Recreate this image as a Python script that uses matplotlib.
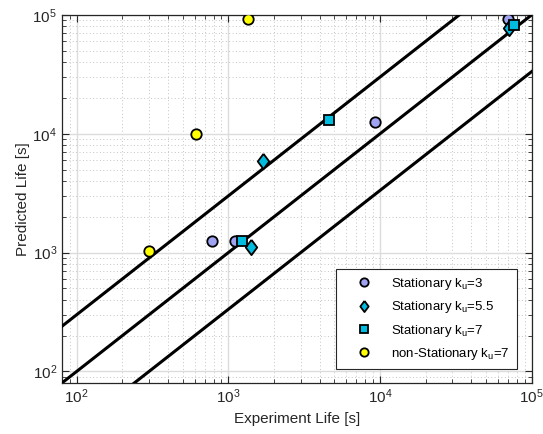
import matplotlib
matplotlib.use("Agg")
import matplotlib.pyplot as plt
import numpy as np

plt.rcParams['font.family'] = ['Liberation Sans', 'DejaVu Sans']
plt.rcParams['mathtext.fontset'] = 'custom'
plt.rcParams['mathtext.rm'] = 'Liberation Sans'
plt.rcParams['mathtext.it'] = 'Liberation Sans'

# Experiment life vs predicted life [s]
stat3_exp = [780, 1100, 9300, 70000]
stat3_pred = [1250, 1250, 12500, 92000]

stat55_exp = [1420, 1700, 71000]
stat55_pred = [1110, 5900, 77000]

stat7_exp = [1230, 4650, 77000]
stat7_pred = [1250, 13100, 82000]

nonstat7_exp = [300, 610, 1350]
nonstat7_pred = [1040, 10000, 92000]

# scatter-band factors
band_factors = [3, 1, 1 / 3]

xlim = (80, 1e5)
ylim = (80, 1e5)

# diamond slightly narrower than tall
diamond = [(0, 1), (0.75, 0), (0, -1), (-0.75, 0), (0, 1)]

fig = plt.figure(figsize=(5.43, 4.34), dpi=100)
ax = fig.add_axes([0.114, 0.1175, 0.865, 0.848])

ax.set_xscale('log')
ax.set_yscale('log')

xx = np.array([10, 1e6])
for f in band_factors:
    ax.plot(xx, f * xx, color='black', lw=2.2, zorder=3)

edge = 1.3
ax.plot(stat3_exp, stat3_pred, 'o', ls='none', ms=7.5, mfc='#9fa3f2', mec='black', mew=edge,
        label=r'Stationary k$_{\mathrm{u}}$=3', zorder=4)
ax.plot(stat55_exp, stat55_pred, marker=diamond, ls='none', ms=11, mfc='#00bde0', mec='black',
        mew=edge, label=r'Stationary k$_{\mathrm{u}}$=5.5', zorder=5)
ax.plot(stat7_exp, stat7_pred, 's', ls='none', ms=6.5, mfc='#00bde0', mec='black', mew=edge,
        label=r'Stationary k$_{\mathrm{u}}$=7', zorder=6)
ax.plot(nonstat7_exp, nonstat7_pred, 'o', ls='none', ms=7.5, mfc='#ffff00', mec='black', mew=edge,
        label=r'non-Stationary k$_{\mathrm{u}}$=7', zorder=7)

ax.set_xlim(*xlim)
ax.set_ylim(*ylim)

ax.grid(True, which='major', color='#dcdcdc', lw=1.0, ls='-', zorder=0)
ax.grid(True, which='minor', color='#c4c4c4', lw=0.7, ls=(0, (1, 2.5)), zorder=0)
ax.set_axisbelow(True)

ax.tick_params(which='both', direction='in', top=True, right=True, colors='#262626',
               labelsize=11)
ax.tick_params(which='major', length=5, width=0.8)
ax.tick_params(which='minor', length=3, width=0.6)
for s in ax.spines.values():
    s.set_color('#262626')
    s.set_linewidth(0.9)

ax.set_xlabel('Experiment Life [s]', fontsize=11, color='#262626', labelpad=4)
ax.set_ylabel('Predicted Life [s]', fontsize=11, color='#262626', labelpad=2)

leg = ax.legend(loc='lower right', bbox_to_anchor=(0.968, 0.038), fontsize=9.5,
                fancybox=False, edgecolor='#262626', framealpha=1, borderpad=0.55,
                labelspacing=0.55, handlelength=3.2, handletextpad=0.4, borderaxespad=0)
leg.get_frame().set_linewidth(0.8)
for h, size in zip(leg.legend_handles, [6, 8, 6, 6]):
    h.set_markersize(size)

fig.savefig('out.png', dpi=100)
